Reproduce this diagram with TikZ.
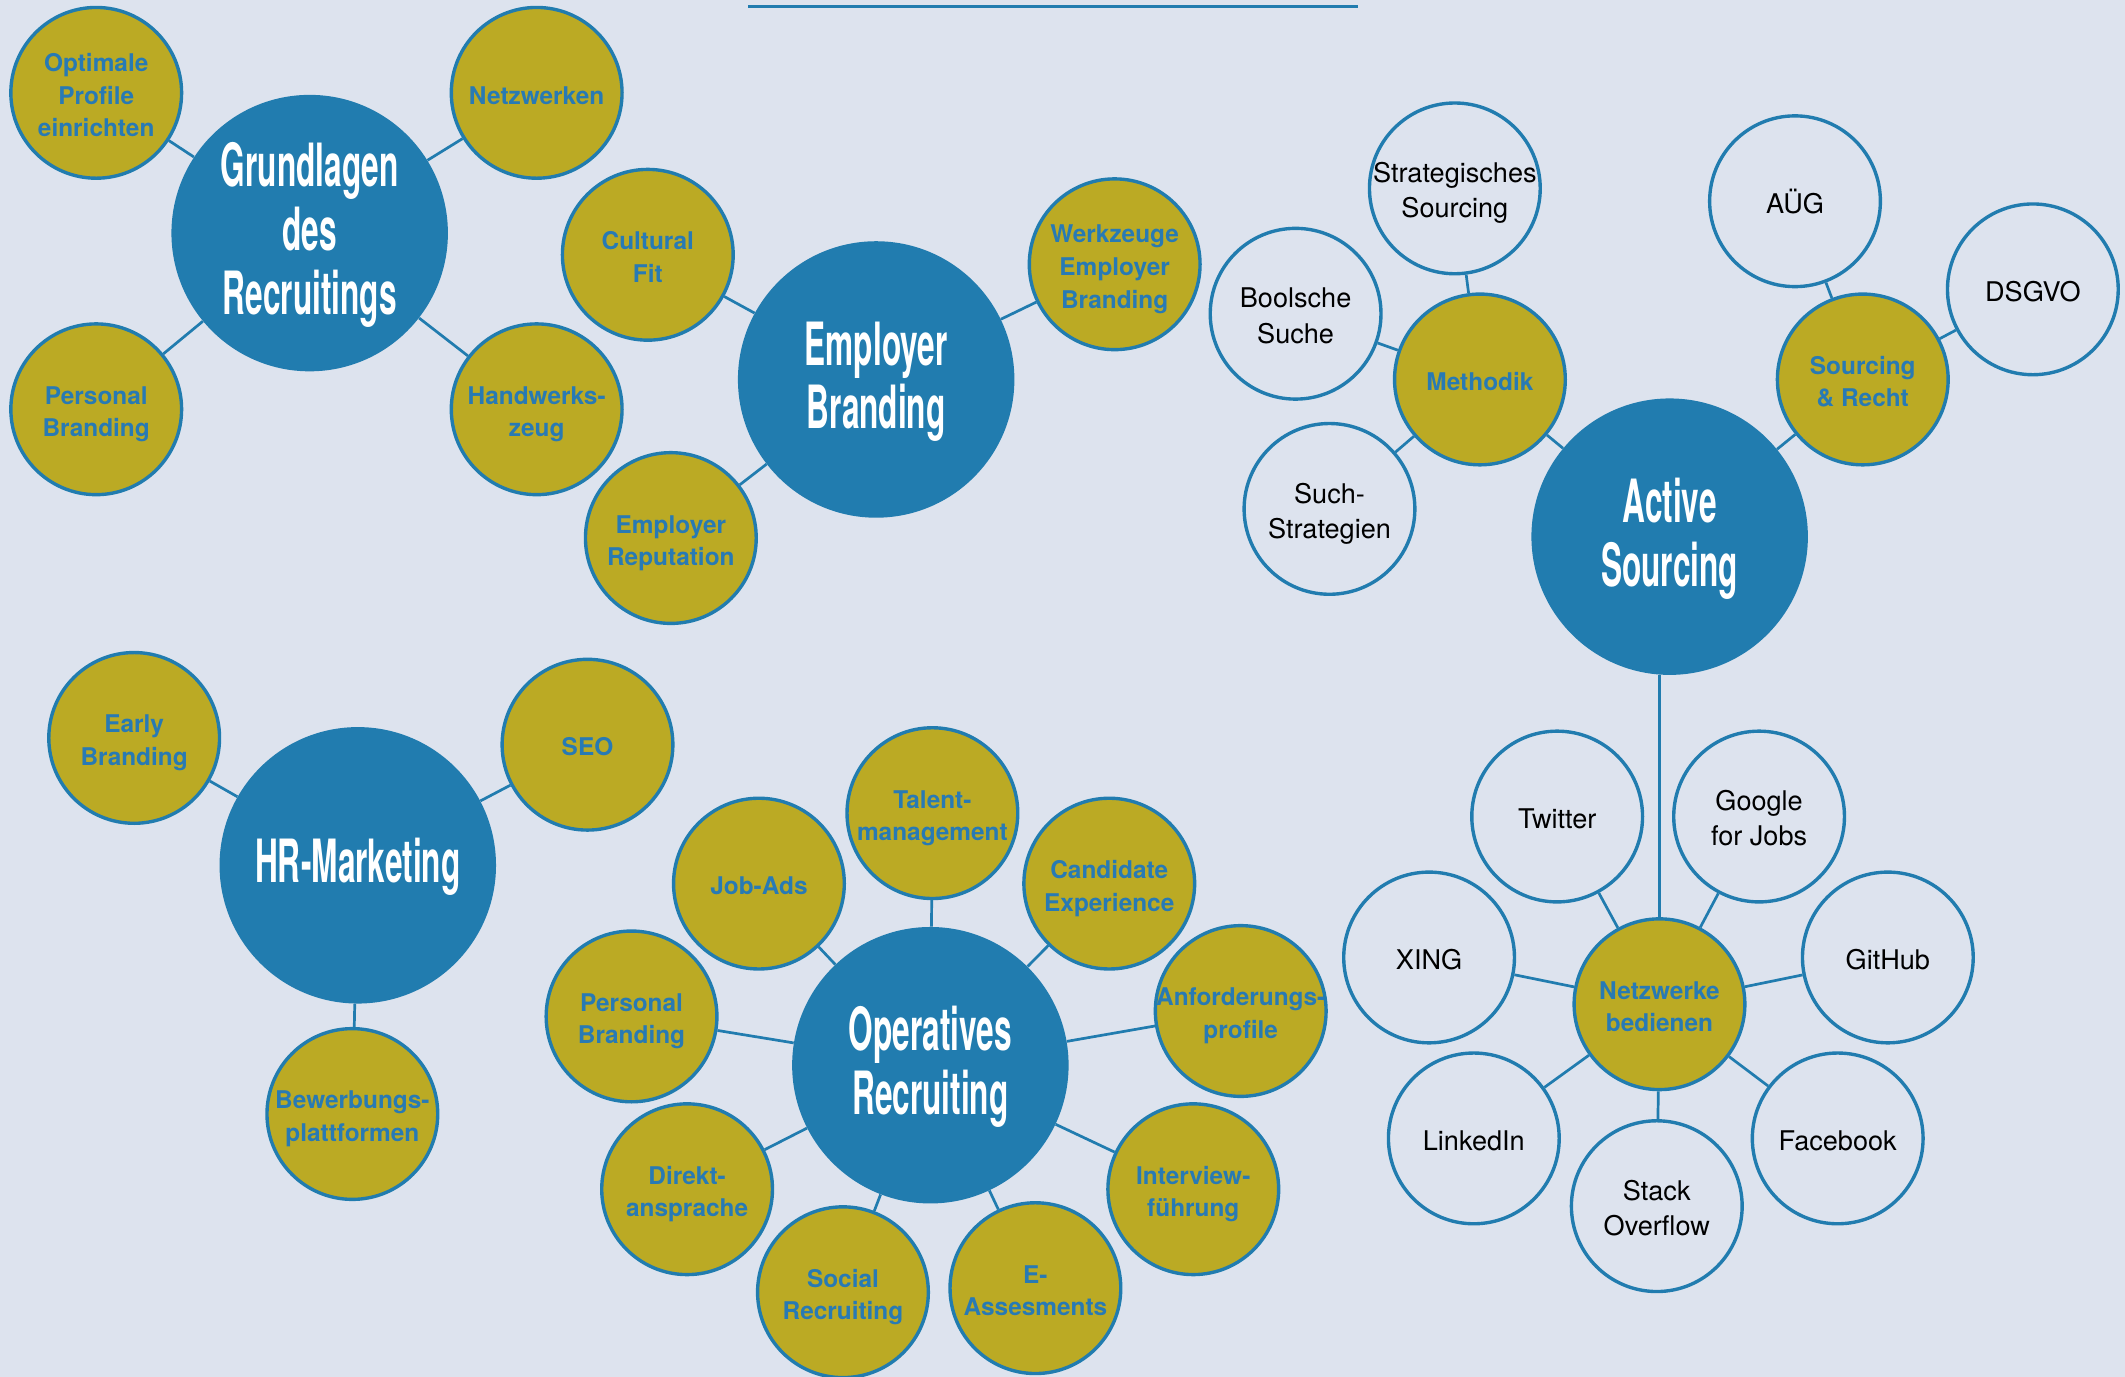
\documentclass[tikz,border=0pt]{standalone}
\usepackage{fontspec}
\setmainfont{TeX Gyre Heros}
\newfontfamily\titlefont[FakeStretch=0.53]{TeX Gyre Heros}
\definecolor{bg}{RGB}{221,227,238}
\definecolor{cblue}{RGB}{33,124,175}
\definecolor{colive}{RGB}{187,170,36}
\definecolor{ctxt}{RGB}{40,122,180}
\newcommand\ct[1]{\raisebox{-3.5pt}[\height][\depth]{\makebox[0pt]{\begin{tabular}{@{}c@{}}#1\end{tabular}}}}
\tikzset{
  hub/.style={circle, fill=cblue, draw=none, minimum size=204pt, inner sep=0pt, text=white,
    font=\titlefont\bfseries\fontsize{44}{47}\selectfont},
  topic/.style={circle, fill=colive, draw=cblue, line width=2.5pt, minimum size=126pt, inner sep=0pt,
    text=ctxt, font=\bfseries\fontsize{18}{24}\selectfont},
  leaf/.style={circle, fill=bg, draw=cblue, line width=2.5pt, minimum size=126pt, inner sep=0pt,
    text=black, font=\fontsize{20}{26}\selectfont},
  link/.style={draw=cblue, line width=2pt}
}
\begin{document}
\begin{tikzpicture}[x=1pt,y=-1pt]
\fill[bg] (0,0) rectangle (1568,1016);
\useasboundingbox (0,0) rectangle (1568,1016);
% top rule
\coordinate (ruleA) at (552,5);
\coordinate (ruleB) at (1002,5);
\draw[link] (ruleA) -- (ruleB);

% Grundlagen des Recruitings
\node[hub] (gr) at (228.5,172) {\ct{Grundlagen\\des\\Recruitings}};
\node[topic] (opt) at (71,68.5) {\ct{Optimale\\Profile\\einrichten}};
\node[topic] (netz) at (396,68.5) {\ct{Netzwerken}};
\node[topic] (pb1) at (71,302) {\ct{Personal\\Branding}};
\node[topic] (hw) at (396,302) {\ct{Handwerks-\\zeug}};

% Employer Branding
\node[hub] (eb) at (646.5,280) {\ct{Employer\\Branding}};
\node[topic] (cf) at (478,188) {\ct{Cultural\\Fit}};
\node[topic] (web) at (822.5,195) {\ct{Werkzeuge\\Employer\\Branding}};
\node[topic] (er) at (495,397) {\ct{Employer\\Reputation}};

% Active Sourcing
\node[hub] (as) at (1232,396) {\ct{Active\\Sourcing}};
\node[topic] (meth) at (1092,280) {\ct{Methodik}};
\node[leaf] (strat) at (1073.5,139) {\ct{Strategisches\\Sourcing}};
\node[leaf] (bool) at (956,231.5) {\ct{Boolsche\\Suche}};
\node[leaf] (such) at (981,375.5) {\ct{Such-\\Strategien}};
\node[topic] (sr) at (1374.5,280) {\ct{Sourcing\\\& Recht}};
\node[leaf] (aug) at (1324.5,148.5) {\ct{AÜG}};
\node[leaf] (dsgvo) at (1500,213.5) {\ct{DSGVO}};

% Netzwerke bedienen
\node[topic] (nb) at (1224.5,741) {\ct{Netzwerke\\bedienen}};
\node[leaf] (tw) at (1149,602.5) {\ct{Twitter}};
\node[leaf] (gj) at (1298,602.5) {\ct{Google\\for Jobs}};
\node[leaf] (xing) at (1054.5,706.5) {\ct{XING}};
\node[leaf] (gh) at (1393,706.5) {\ct{GitHub}};
\node[leaf] (li) at (1087.5,840) {\ct{LinkedIn}};
\node[leaf] (so) at (1222.5,890) {\ct{Stack\\Overflow}};
\node[leaf] (fb) at (1356,840) {\ct{Facebook}};

% HR-Marketing
\node[hub] (hr) at (264,638.5) {\ct{HR-Marketing}};
\node[topic] (early) at (99,544.5) {\ct{Early\\Branding}};
\node[topic] (seo) at (433.5,549.5) {\ct{SEO}};
\node[topic] (bew) at (260,822) {\ct{Bewerbungs-\\plattformen}};

% Operatives Recruiting
\node[hub] (op) at (686.5,786) {\ct{Operatives\\Recruiting}};
\node[topic] (tal) at (688,600) {\ct{Talent-\\management}};
\node[topic] (job) at (560,652) {\ct{Job-Ads}};
\node[topic] (cand) at (818.5,652) {\ct{Candidate\\Experience}};
\node[topic] (pb2) at (466,750) {\ct{Personal\\Branding}};
\node[topic] (anf) at (915.5,746) {\ct{Anforderungs-\\profile}};
\node[topic] (dir) at (507,877.5) {\ct{Direkt-\\ansprache}};
\node[topic] (int) at (880.5,877.5) {\ct{Interview-\\führung}};
\node[topic] (soc) at (622,953.5) {\ct{Social\\Recruiting}};
\node[topic] (eas) at (764,950.5) {\ct{E-\\Assesments}};

% connectors
\foreach \a/\b in {gr/opt, gr/netz, gr/pb1, gr/hw,
                   eb/cf, eb/web, eb/er,
                   as/meth, meth/strat, meth/bool, meth/such, as/sr, sr/aug, sr/dsgvo,
                   nb/tw, nb/gj, nb/xing, nb/gh, nb/li, nb/so, nb/fb,
                   hr/early, hr/seo, hr/bew,
                   op/tal, op/job, op/cand, op/pb2, op/anf, op/dir, op/int, op/soc, op/eas}
  \draw[link] (\a) -- (\b);
\draw[link] (nb.north) -- (nb.north |- as.south);
\end{tikzpicture}
\end{document}
